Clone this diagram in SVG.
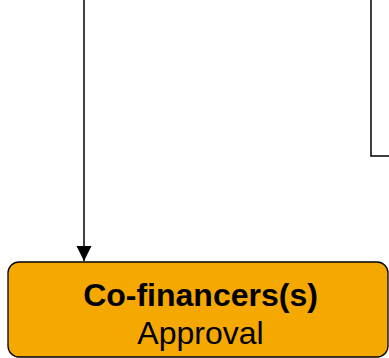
<svg xmlns="http://www.w3.org/2000/svg" width="389" height="358" viewBox="0 0 389 358">
<style>
.conn{fill:none;stroke:#000;stroke-width:1.5}
.node{fill:#F5A800;stroke:#000;stroke-width:1.3}
.t{font-family:"Liberation Sans",Arial,sans-serif;font-size:32px;fill:#000;text-anchor:middle}
.b{font-weight:bold}
</style>
<defs>
<marker id="ah" markerUnits="userSpaceOnUse" markerWidth="16" markerHeight="16" refX="15" refY="7.5" orient="auto">
<path d="M0,0 L15,7.5 L0,15 Z" fill="#000"/>
</marker>
</defs>
<g id="connectors">
<path class="conn" d="M84,0 V261" marker-end="url(#ah)"/>
<path class="conn" d="M371,0 V156 H390"/>
</g>
<g id="cofinancers">
<rect class="node" x="8" y="262" width="380" height="95" rx="11" ry="11"/>
<text class="t b" x="200.5" y="306">Co-financers(s)</text>
<text class="t" x="200.5" y="344">Approval</text>
</g>
</svg>
